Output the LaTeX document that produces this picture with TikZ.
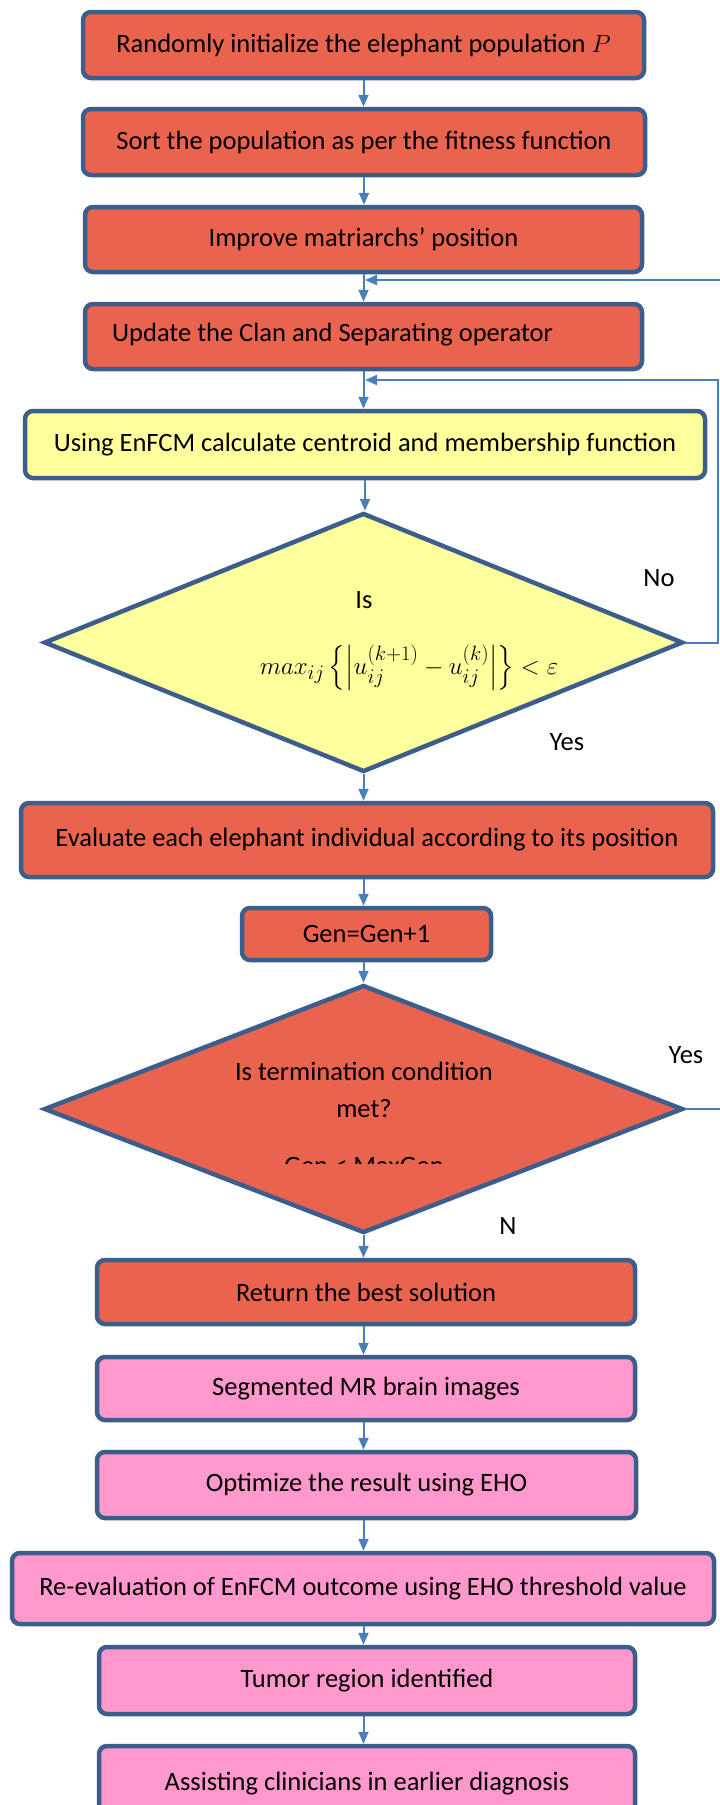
\documentclass[tikz,border=0pt]{standalone}
\usepackage{fontspec}
\setmainfont{Carlito}
\usepackage{amsmath}
\usetikzlibrary{arrows.meta,shapes.geometric}
\definecolor{boxred}{RGB}{233,99,79}
\definecolor{bord}{RGB}{60,94,140}
\definecolor{ylw}{RGB}{255,255,155}
\definecolor{pnk}{RGB}{255,152,204}
\definecolor{arr}{RGB}{74,126,187}
\tikzset{
  basebox/.style={draw=bord,line width=4.5pt,rounded corners=8pt,inner sep=0pt,font=\fontsize{26.5}{31}\selectfont},
  redbox/.style={basebox,fill=boxred},
  ylwbox/.style={basebox,fill=ylw},
  pnkbox/.style={basebox,fill=pnk},
  dia/.style={draw=bord,line width=4.5pt,diamond,inner sep=0pt,shape aspect=2.47},
  lbl/.style={font=\fontsize{26.5}{31}\selectfont,inner sep=0pt},
  mathlbl/.style={font=\fontsize{30}{36}\selectfont,inner sep=0pt},
  flow/.style={draw=arr,line width=2pt,-{Triangle[length=12pt,width=10pt]}}
}
\begin{document}
\begin{tikzpicture}[x=1pt,y=-1pt]
\useasboundingbox (0,0) rectangle (720,1805);
% boxes
\node[redbox,minimum width=561,minimum height=66] (b1) at (363.5,45) {Randomly initialize the elephant population $P$};
\node[redbox,minimum width=562,minimum height=66] (b2) at (364,142) {Sort the population as per the fitness function};
\node[redbox,minimum width=557,minimum height=65] (b3) at (363.5,239.5) {Improve matriarchs’ position};
\node[redbox,minimum width=557,minimum height=65] (b4) at (363.5,336.5) {};
\node[lbl,anchor=west] (b4t) at (112,335) {Update the Clan and Separating operator};
\node[ylwbox,minimum width=680,minimum height=67] (b5) at (365,444.5) {Using EnFCM calculate centroid and membership function};
\node[dia,fill=ylw,minimum width=639,minimum height=259] (d1) at (363.5,642.5) {};
\node[lbl] (d1a) at (364,600) {Is};
\node[mathlbl] (d1b) at (409,668) {$max_{ij}\left\{\left|u_{ij}^{(k+1)}-u_{ij}^{(k)}\right|\right\}<\varepsilon$};
\node[redbox,minimum width=692,minimum height=74] (b6) at (367,840) {Evaluate each elephant individual according to its position};
\node[redbox,minimum width=249,minimum height=52] (b7) at (366.5,934) {Gen=Gen+1};
\node[dia,fill=boxred,minimum width=639,minimum height=248] (d2) at (363.5,1109) {};
\node[lbl] (d2a) at (364,1071) {Is termination condition};
\node[lbl] (d2b) at (364,1109) {met?};
\begin{scope}
\clip (200,1120) rectangle (530,1163);
\node[lbl,anchor=base] (d2c) at (364,1174) {Gen < MaxGen};
\end{scope}
\node[redbox,minimum width=538,minimum height=64] (b8) at (366,1292) {Return the best solution};
\node[pnkbox,minimum width=538,minimum height=63] (b9) at (366,1388.5) {Segmented MR brain images};
\node[pnkbox,minimum width=539,minimum height=66] (b10) at (366.5,1485) {Optimize the result using EHO};
\node[pnkbox,minimum width=702,minimum height=71] (b11) at (363,1588.5) {Re-evaluation of EnFCM outcome using EHO threshold value};
\node[pnkbox,minimum width=536,minimum height=67] (b12) at (367,1680.5) {Tumor region identified};
\node[pnkbox,minimum width=536,minimum height=76] (b13) at (367,1784) {Assisting clinicians in earlier diagnosis};
% labels
\node[lbl] (lno) at (659,578) {No};
\node[lbl] (lyes1) at (567,742) {Yes};
\node[lbl] (lyes2) at (686,1055) {Yes};
\node[lbl] (ln) at (508,1226) {N};
% connectors
\draw[flow] (b1.south) -- (b1.south |- b2.north);
\draw[flow] (b2.south) -- (b2.south |- b3.north);
\draw[flow] (b3.south) -- (b3.south |- b4.north);
\draw[flow] (b4.south) -- (b4.south |- b5.north);
\draw[flow] (b5.south) -- (b5.south |- d1.north);
\draw[flow] (d1.south) -- (d1.south |- b6.north);
\draw[flow] (b6.south -| d1.south) -- (d1.south |- b7.north);
\draw[flow] (b7.south -| d1.south) -- (d1.south |- d2.north);
\draw[flow] (d2.south) -- (d2.south |- b8.north);
\draw[flow] (b8.south -| d2.south) -- (d2.south |- b9.north);
\draw[flow] (b9.south -| d2.south) -- (d2.south |- b10.north);
\draw[flow] (b10.south -| d2.south) -- (d2.south |- b11.north);
\draw[flow] (b11.south -| d2.south) -- (d2.south |- b12.north);
\draw[flow] (b12.south -| d2.south) -- (d2.south |- b13.north);
% loops
\coordinate (j1) at (365,280);
\coordinate (j2) at (365,380);
\draw[flow] (d1.east) -- (718,642.5) -- (718,380) -- (j2);
\draw[flow] (d2.east) -- (726,1109) -- (726,280) -- (j1);
\end{tikzpicture}
\end{document}
